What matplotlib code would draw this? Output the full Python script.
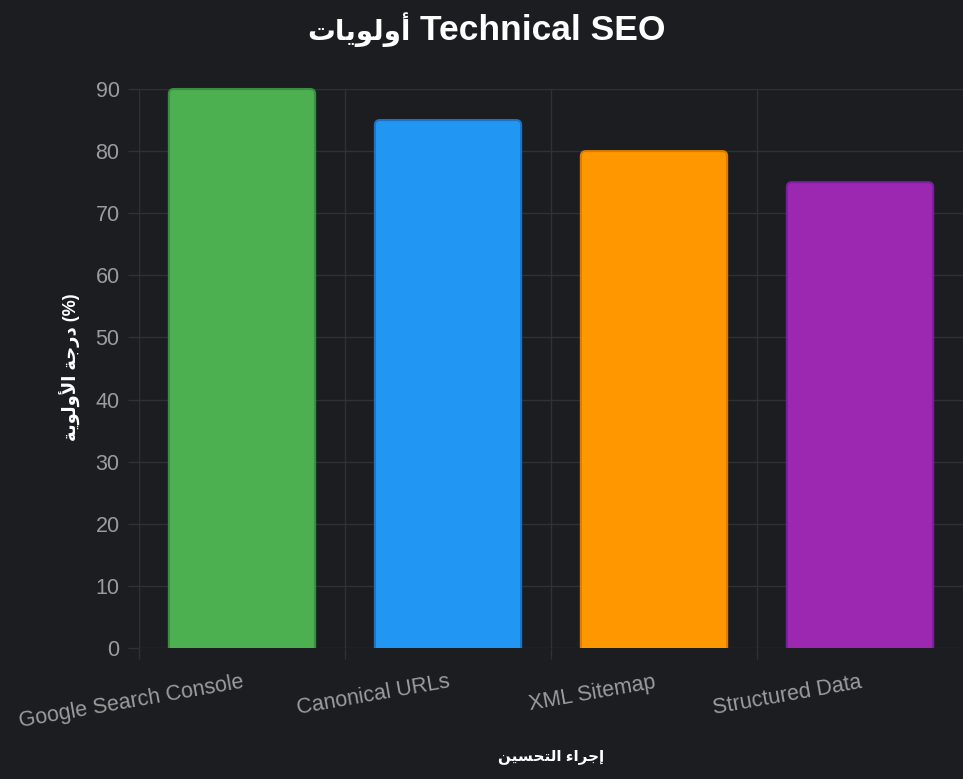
import matplotlib as mpl
import matplotlib.pyplot as plt
from matplotlib.patches import FancyBboxPatch, Rectangle

mpl.rcParams.update({
    "font.family": ["Liberation Sans", "DejaVu Sans"],
})

# data
categories = ["Google Search Console", "Canonical URLs", "XML Sitemap", "Structured Data"]
priority = [90, 85, 80, 75]
y_ticks = [0, 10, 20, 30, 40, 50, 60, 70, 80, 90]

# Arabic text in visual order with presentation forms (matplotlib has no shaping)
title_ar = "\uFE95\uFE8E\uFEF3\uFEEE\uFEDF\uFEED\uFE83"          # أولويات
title_en = "Technical SEO"
ylabel_ar = "\uFE94\uFEF3\uFEEE\uFEDF\uFEED\uFEF7\uFE8D \uFE94\uFE9F\uFEAD\uFEA9 (%)"  # درجة الأولوية (%)
xlabel_ar = "\uFEE6\uFEF4\uFEB4\uFEA4\uFE98\uFEDF\uFE8D \uFE80\uFE8D\uFEAE\uFE9F\uFE87"  # إجراء التحسين

COL = {
    "bg": "#1c1d21",
    "grid": "#303135",
    "tick": "#9c9c9c",
    "text": "#ffffff",
}
fills = ["#4caf50", "#2196f3", "#ff9800", "#9c27b0"]
edges = ["#3b8e3f", "#1a73c4", "#e07b00", "#7b1fa2"]

W, H = 963, 779
fig = plt.figure(figsize=(W / 100, H / 100), dpi=100, facecolor=COL["bg"])
left, right, top, bottom = 139, 963, 89, 648
ax = fig.add_axes([left / W, 1 - bottom / H, (right - left) / W, (bottom - top) / H])
ax.set_facecolor(COL["bg"])

x = list(range(len(categories)))
bars = ax.bar(x, priority, width=0.71, color=fills, edgecolor=edges, linewidth=1.5)

ax.set_xlim(-0.5, len(categories) - 0.5)
ax.set_ylim(0, 90)

# rounded top corners like Chart.js borderRadius
px_x = (right - left) / len(categories)
px_y = (bottom - top) / 90
aspect = px_x / px_y
r = 5 / px_x
clip = Rectangle((-0.5, 0), len(categories), 100, transform=ax.transData)
for b, fc, ec in zip(bars, fills, edges):
    bx, by = b.get_x(), b.get_y()
    bw, bh = b.get_width(), b.get_height()
    b.remove()
    ext = 3
    p = FancyBboxPatch((bx, by - ext), bw, bh + ext,
                       boxstyle=f"round,pad=0,rounding_size={r}",
                       mutation_aspect=aspect, facecolor=fc, edgecolor=ec,
                       linewidth=1.5, zorder=3)
    ax.add_patch(p)
    p.set_clip_path(clip)

for s in ax.spines.values():
    s.set_visible(False)

ax.set_yticks(y_ticks)
ax.set_yticklabels([str(v) for v in y_ticks])
ax.set_xticks([i - 0.5 for i in x])
ax.set_xticklabels([])
ax.set_xticks(x, minor=True)
ax.set_xticklabels(categories, minor=True, rotation=10, ha="right",
                   va="top", rotation_mode="anchor")

ax.tick_params(axis="y", which="major", length=8, width=1, color=COL["grid"],
               labelcolor=COL["tick"], labelsize=15.5, pad=6)
ax.tick_params(axis="x", which="major", length=8, width=1, color=COL["grid"])
ax.tick_params(axis="x", which="minor", length=0, labelcolor=COL["tick"],
               labelsize=15.5, pad=17)

ax.grid(True, which="major", color=COL["grid"], linewidth=1)
ax.set_axisbelow(True)

# title split so the Arabic run can be sized on its own
fig.text(411 / W, 1 - 30 / H, title_ar, ha="right", va="center",
         fontsize=20, fontweight="bold", color=COL["text"])
fig.text(420 / W, 1 - 30 / H, title_en, ha="left", va="center",
         fontsize=25.5, fontweight="bold", color=COL["text"])
fig.text(70 / W, 1 - 367 / H, ylabel_ar, ha="center", va="center", rotation=90,
         fontsize=13, fontweight="bold", color=COL["text"])
fig.text(551 / W, 1 - 757 / H, xlabel_ar, ha="center", va="center",
         fontsize=11, fontweight="bold", color=COL["text"])

fig.savefig("out.png", dpi=100, facecolor=COL["bg"])
